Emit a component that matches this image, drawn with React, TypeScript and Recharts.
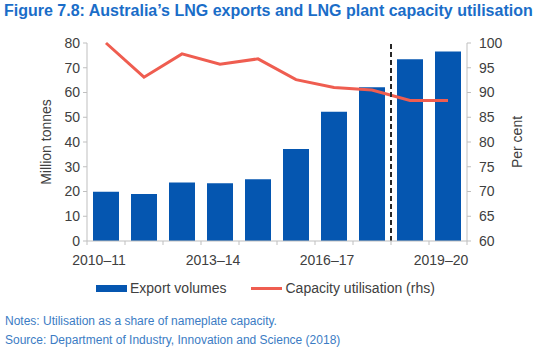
import React from 'react';
import { ComposedChart, Bar, Line, XAxis, YAxis, ReferenceLine } from 'recharts';

const years = ['2010–11', '2011–12', '2012–13', '2013–14', '2014–15', '2015–16', '2016–17', '2017–18', '2018–19', '2019–20'];
const exportVolumes = [19.9, 19.0, 23.6, 23.3, 25.0, 37.2, 52.2, 62.1, 73.4, 76.6];
const capacityUtilisation = [100, 93.1, 97.8, 95.7, 96.8, 92.6, 91.0, 90.5, 88.4, 88.4];
const leftTicks = [0, 10, 20, 30, 40, 50, 60, 70, 80];
const rightTicks = [60, 65, 70, 75, 80, 85, 90, 95, 100];

const data = years.map((year, i) => ({
  year,
  exports: exportVolumes[i],
  utilisation: capacityUtilisation[i],
}));

const FONT = 'Arial, "Liberation Sans", sans-serif';
const BLUE = '#0556b0';
const RED = '#ef5d50';
const AXIS = '#bfbfbf';
const TEXT = '#404040';

function YearTick(props: any) {
  const { x, y, payload, index } = props;
  const half = payload?.offset || 19;
  return (
    <g>
      <line x1={x - half} x2={x - half} y1={y} y2={y + 4} stroke={AXIS} />
      {index === years.length - 1 && <line x1={x + half} x2={x + half} y1={y} y2={y + 4} stroke={AXIS} />}
      {index % 3 === 0 && (
        <text x={x - 7} y={y + 24} textAnchor="middle" fill={TEXT} fontSize={14} fontFamily={FONT}>
          {payload.value}
        </text>
      )}
    </g>
  );
}

export default function App() {
  return (
    <div style={{ position: 'absolute', left: 0, top: 0, width: 539, height: 351, background: '#fff', fontFamily: FONT }}>
      <div style={{ position: 'absolute', left: 4, top: 2, fontSize: 16, fontWeight: 'bold', color: '#1a6dc8', whiteSpace: 'nowrap' }}>
        Figure 7.8: Australia’s LNG exports and LNG plant capacity utilisation
      </div>
      <div style={{ position: 'absolute', left: 0, top: 0 }}>
        <ComposedChart width={539} height={270} data={data} margin={{ top: 43, right: 0, bottom: 5, left: 0 }} barCategoryGap={6}>
          <XAxis
            dataKey="year"
            interval={0}
            tickSize={0}
            tickMargin={0}
            tickLine={false}
            axisLine={{ stroke: AXIS }}
            tick={<YearTick />}
            height={24}
          />
          <YAxis
            yAxisId="left"
            width={87}
            domain={[0, 80]}
            ticks={leftTicks}
            tickSize={4}
            tickMargin={3}
            axisLine={{ stroke: AXIS }}
            tickLine={{ stroke: AXIS }}
            tick={{ fill: TEXT, fontSize: 14, fontFamily: FONT }}
          />
          <YAxis
            yAxisId="right"
            orientation="right"
            width={72}
            domain={[60, 100]}
            ticks={rightTicks}
            tickSize={4}
            tickMargin={8}
            axisLine={{ stroke: AXIS }}
            tickLine={{ stroke: AXIS }}
            tick={{ fill: TEXT, fontSize: 14, fontFamily: FONT, textAnchor: 'start' }}
          />
          <Bar yAxisId="left" dataKey="exports" name="Export volumes" fill={BLUE} isAnimationActive={false} />
          <Line
            yAxisId="right"
            dataKey="utilisation"
            name="Capacity utilisation (rhs)"
            stroke={RED}
            strokeWidth={3}
            dot={false}
            type="linear"
            isAnimationActive={false}
          />
          <ReferenceLine yAxisId="left" x="2018–19" position="start" stroke="#262626" strokeWidth={2} strokeDasharray="5 3" />
        </ComposedChart>
      </div>
      <div style={{ position: 'absolute', left: 46, top: 142, transform: 'translate(-50%, -50%) rotate(-90deg)', fontSize: 14, color: TEXT, whiteSpace: 'nowrap' }}>
        Million tonnes
      </div>
      <div style={{ position: 'absolute', left: 517, top: 142, transform: 'translate(-50%, -50%) rotate(-90deg)', fontSize: 14, color: TEXT, whiteSpace: 'nowrap' }}>
        Per cent
      </div>
      <div style={{ position: 'absolute', left: 96, top: 280, fontSize: 14, color: TEXT, display: 'flex', alignItems: 'center', whiteSpace: 'nowrap' }}>
        <span style={{ display: 'inline-block', width: 31, height: 7, background: BLUE, marginRight: 3 }} />
        <span>Export volumes</span>
        <span style={{ display: 'inline-block', width: 31, height: 3, background: RED, marginLeft: 25, marginRight: 3 }} />
        <span>Capacity utilisation (rhs)</span>
      </div>
      <div style={{ position: 'absolute', left: 5, top: 312, fontSize: 12, color: '#3b7cc4', whiteSpace: 'nowrap', lineHeight: '19px' }}>
        <div>Notes: Utilisation as a share of nameplate capacity.</div>
        <div>Source: Department of Industry, Innovation and Science (2018)</div>
      </div>
    </div>
  );
}
